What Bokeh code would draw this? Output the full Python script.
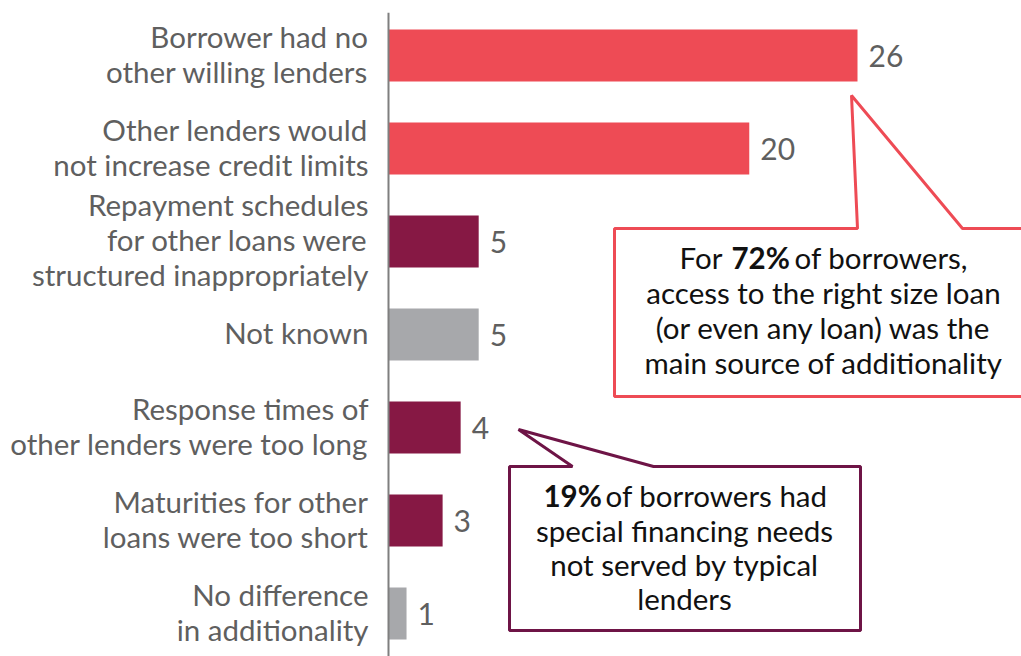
from bokeh.plotting import figure
from bokeh.models import FactorRange, Range1d, ColumnDataSource, Span
from bokeh.core.properties import value
from bokeh.embed import file_html
from bokeh.resources import INLINE

categories = [
    "Borrower had no\nother willing lenders",
    "Other lenders would\nnot increase credit limits",
    "Repayment schedules\nfor other loans were\nstructured inappropriately",
    "Not known",
    "Response times of\nother lenders were too long",
    "Maturities for other\nloans were too short",
    "No difference\nin additionality",
]
counts = [26, 20, 5, 5, 4, 3, 1]
groups = ["size", "size", "special", "unknown", "special", "special", "none"]
group_colors = {"size": "#EE4B55", "special": "#861844", "unknown": "#A7A8AB", "none": "#A7A8AB"}

callout_size = ["For", "72%", "of borrowers,", "access to the right size loan",
                "(or even any loan) was the", "main source of additionality"]
callout_special = ["19%", "of borrowers had", "special financing needs",
                   "not served by typical", "lenders"]

FONT = value("Lato")
FS = "29.5px"
W, H = 1021, 656
TOP = 12
axis_px = 388.0
k = (857 - 388) / 26.0
row_px = 93.0
n = len(categories)
pad = ((H - TOP) / row_px - n) / 2.0


# helpers to place annotations by page pixel (annotation layout only)
def ax(px):
    return (px - axis_px) / k


def ay(py):
    return (n - 0.5) - (py - 55) / row_px


p = figure(width=W, height=H, output_backend="svg", toolbar_location=None,
           y_range=FactorRange(factors=categories[::-1], range_padding=pad,
                               range_padding_units="absolute"),
           x_range=Range1d(-axis_px / k, (W - axis_px) / k),
           x_axis_location=None, y_axis_location=None,
           min_border_left=0, min_border_right=0, min_border_top=TOP, min_border_bottom=0)
p.outline_line_color = None
p.xgrid.visible = False
p.ygrid.visible = False

src = ColumnDataSource(dict(cat=categories, count=counts,
                            color=[group_colors[g] for g in groups],
                            label=[str(c) for c in counts]))

p.hbar(y="cat", left=0, right="count", height=0.56, fill_color="color",
       line_color=None, source=src)
p.add_layout(Span(location=0, dimension="height", line_color="#7F7F7F", line_width=2))

p.text(x="count", y="cat", text="label", x_offset=11, text_baseline="middle",
       text_font=FONT, text_font_size="30px", text_color="#5F5F5F", source=src)
p.text(x=0, y="cat", text="cat", x_offset=-20, y_offset=-2, text_align="right",
       text_baseline="middle", text_line_height=1.0, text_font=FONT, text_font_size=FS,
       text_color="#5F5F5F", source=src)

# callout 1 (red)
p.patch([ax(v) for v in [614, 857, 851, 962, 1040, 1040, 614]],
        [ay(v) for v in [228, 228, 95, 228, 228, 396, 396]],
        fill_color="white", line_color="#EE4B55", line_width=3)
# callout 2 (maroon)
p.patch([ax(v) for v in [509, 572, 518, 653, 860, 860, 509]],
        [ay(v) for v in [466, 466, 429, 466, 466, 630, 630]],
        fill_color="white", line_color="#6E1446", line_width=3)

tk = dict(text_baseline="middle", text_font=FONT, text_font_size=FS, text_color="#111111")
p.text(x=[ax(679)], y=[ay(257)], text=[callout_size[0]], text_align="left", **tk)
p.text(x=[ax(731)], y=[ay(257)], text=[callout_size[1]], text_align="left",
       text_font_style="bold", **tk)
p.text(x=[ax(794)], y=[ay(257)], text=[callout_size[2]], text_align="left", **tk)
p.text(x=[ax(823)] * 3, y=[ay(v) for v in [292, 327, 362]], text=callout_size[3:],
       text_align="center", **tk)

p.text(x=[ax(543)], y=[ay(495)], text=[callout_special[0]], text_align="left",
       text_font_style="bold", **tk)
p.text(x=[ax(605)], y=[ay(495)], text=[callout_special[1]], text_align="left", **tk)
p.text(x=[ax(684)] * 3, y=[ay(v) for v in [530, 564, 598]], text=callout_special[2:],
       text_align="center", **tk)

open("out.html", "w").write(file_html(p, INLINE))
